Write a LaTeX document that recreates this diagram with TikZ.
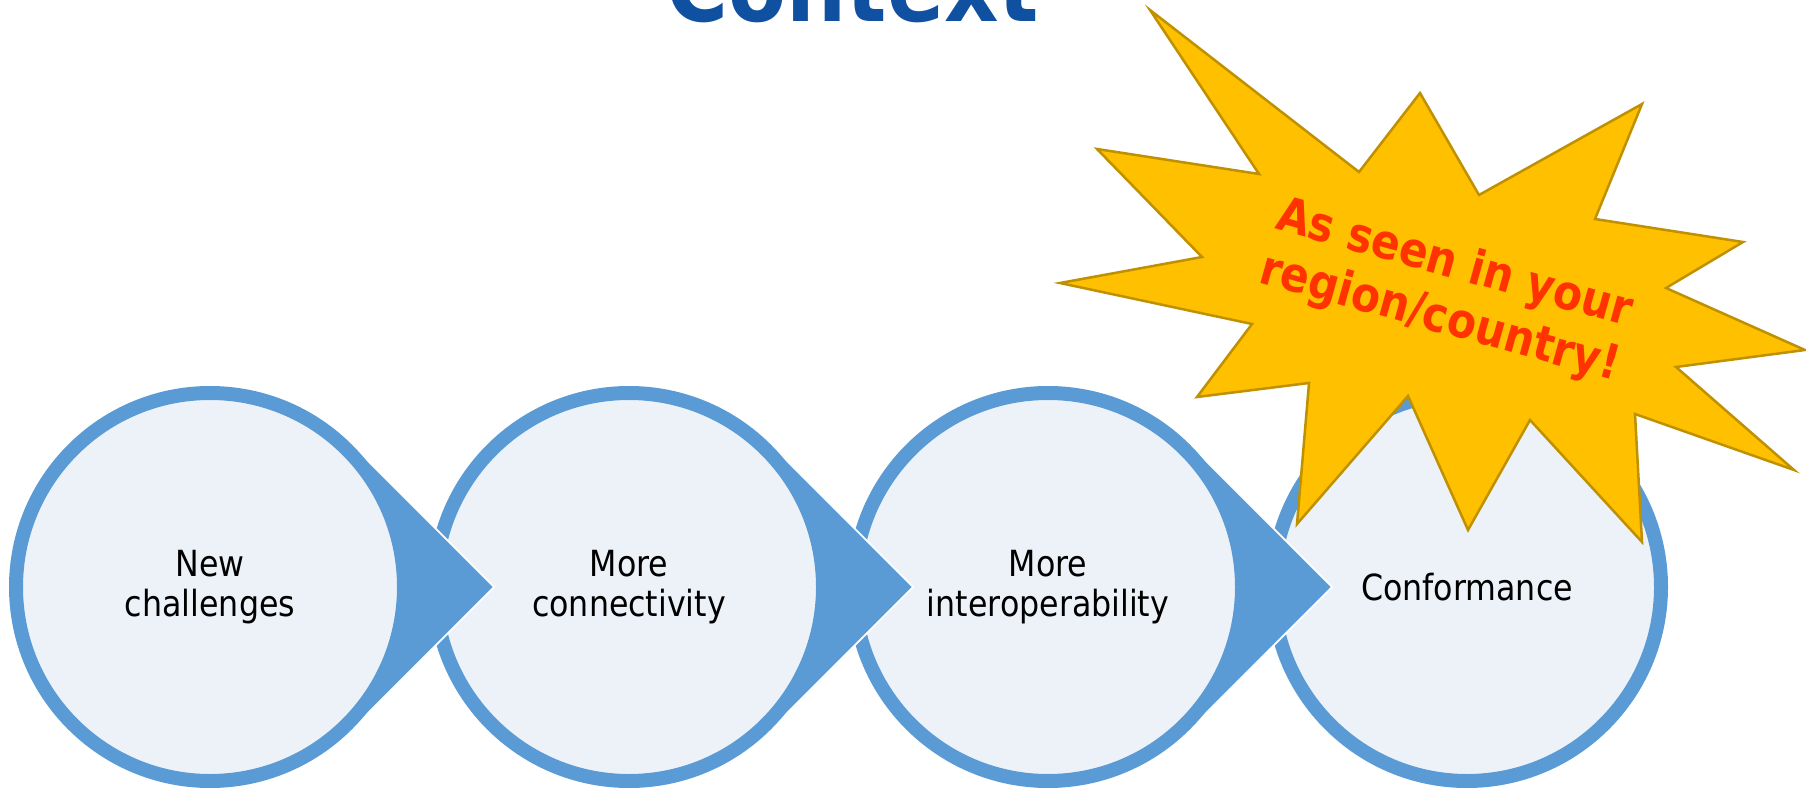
\documentclass[tikz,border=0pt]{standalone}
\usepackage{fontspec}
\setmainfont{DejaVu Sans}[FakeStretch=0.88]
\usepackage{tikz}

\definecolor{ringblue}{RGB}{91,155,213}
\definecolor{discblue}{RGB}{237,242,249}
\definecolor{stargold}{RGB}{255,192,0}
\definecolor{starrim}{RGB}{191,144,0}
\definecolor{noteorange}{RGB}{255,51,0}
\definecolor{titleblue}{RGB}{15,80,160}

\begin{document}
\begin{tikzpicture}[x=1bp, y=-1bp,
	stage/.style={circle, draw=ringblue, line width=14bp, fill=discblue, minimum size=388bp, inner sep=0pt, align=center, font=\fontsize{36bp}{40bp}\selectfont},
	pointer/.style={fill=ringblue, draw=white, line width=1.8bp, line join=miter}]
	
	\useasboundingbox (0,0) rectangle (1806,788);
	
	\node [anchor=base, text=titleblue, font=\fontsize{96bp}{100bp}\selectfont\bfseries] (title) at (853,22) {Context};
	
	\coordinate (p1) at (210,587);
	\coordinate (p2) at (629,587);
	\coordinate (p3) at (1048,587);
	\coordinate (p4) at (1467,587);
	
	\node [stage] (c4) at (p4) {Conformance};
	\filldraw [pointer] (p3) ++(142.1,142.1) -- ++(142.1,-142.1) -- ++(-142.1,-142.1) -- cycle;
	\node [stage] (c3) at (p3) {More\\interoperability};
	\filldraw [pointer] (p2) ++(142.1,142.1) -- ++(142.1,-142.1) -- ++(-142.1,-142.1) -- cycle;
	\node [stage] (c2) at (p2) {More\\connectivity};
	\filldraw [pointer] (p1) ++(142.1,142.1) -- ++(142.1,-142.1) -- ++(-142.1,-142.1) -- cycle;
	\node [stage] (c1) at (p1) {New\\challenges};
	
	\filldraw [fill=stargold, draw=starrim, line width=2.5bp, line join=miter] (1150,10) -- (1359,172) -- (1420,93) -- (1479,195) -- (1642,104) -- (1595,219) -- (1743,242) -- (1666,288) -- (1805,350) -- (1676,367) -- (1794,470) -- (1635,414) -- (1642,542) -- (1530,420) -- (1468,530) -- (1408,396) -- (1297,524) -- (1309,383) -- (1197,397) -- (1252,324) -- (1060,283) -- (1202,257) -- (1097,149) -- (1259,174) -- cycle;
	\node [rotate=-15.5, text=noteorange, align=center, font=\fontsize{48bp}{56bp}\selectfont\bfseries] (note) at (1447,292) {As seen in your\\region/country!};
	\end{tikzpicture}
\end{document}
